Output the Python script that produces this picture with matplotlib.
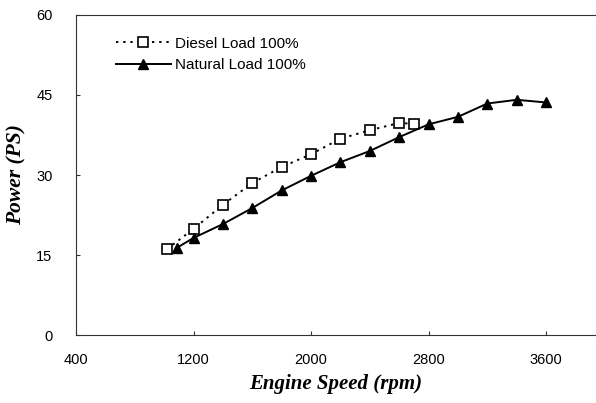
import matplotlib
matplotlib.use("Agg")
import matplotlib.pyplot as plt

# Data
diesel_rpm = [1020, 1200, 1400, 1600, 1800, 2000, 2200, 2400, 2600, 2700]
diesel_ps = [16.1, 19.9, 24.4, 28.5, 31.5, 33.9, 36.8, 38.4, 39.75, 39.6]

natural_rpm = [1090, 1200, 1400, 1600, 1800, 2000, 2200, 2400, 2600, 2800, 3000, 3200, 3400, 3600]
natural_ps = [16.4, 18.2, 20.8, 23.8, 27.1, 29.85, 32.4, 34.5, 37.1, 39.5, 40.9, 43.4, 44.1, 43.6]

x_ticks = [400, 1200, 2000, 2800, 3600]
y_ticks = [0, 15, 30, 45, 60]

fig = plt.figure(figsize=(5.96, 4.03), dpi=100)
ax = fig.add_axes([0.1275, 0.1687, 0.8725, 0.7941])

ax.plot(diesel_rpm, diesel_ps, linestyle=(0, (1.2, 2.5)), color="black", linewidth=1.4,
        marker="s", markersize=6.5, markerfacecolor="white", markeredgecolor="black",
        markeredgewidth=1.2, label="Diesel Load 100%")
ax.plot(natural_rpm, natural_ps, linestyle="-", color="black", linewidth=1.4,
        marker="^", markersize=7, markerfacecolor="black", markeredgecolor="black",
        label="Natural Load 100%")

ax.set_xlim(400, 3940)
ax.set_ylim(0, 60)
ax.set_xticks(x_ticks)
ax.set_yticks(y_ticks)
ax.set_xticklabels([str(v) for v in x_ticks], fontfamily="Liberation Sans", fontsize=10.5)
ax.set_yticklabels([str(v) for v in y_ticks], fontfamily="Liberation Sans", fontsize=10.5)
ax.tick_params(axis="both", direction="in", length=3, width=0.8, color="#333333")
ax.tick_params(axis="x", pad=13)
ax.tick_params(axis="y", pad=17)

for side in ["left", "bottom", "top"]:
    ax.spines[side].set_linewidth(0.8)
    ax.spines[side].set_color("#333333")
ax.spines["right"].set_visible(False)

ax.set_xlabel("Engine Speed (rpm)", fontfamily="Liberation Serif", fontstyle="italic",
              fontweight="bold", fontsize=15, labelpad=5)
ax.set_ylabel("Power (PS)", fontfamily="Liberation Serif", fontstyle="italic",
              fontweight="bold", fontsize=15.5, labelpad=7)

leg = ax.legend(loc="upper left", bbox_to_anchor=(0.05, 0.975), frameon=False,
                handlelength=3.6, handletextpad=0.3, labelspacing=0.5,
                prop={"family": "Liberation Sans", "size": 11})

fig.savefig("out.png", dpi=100)
